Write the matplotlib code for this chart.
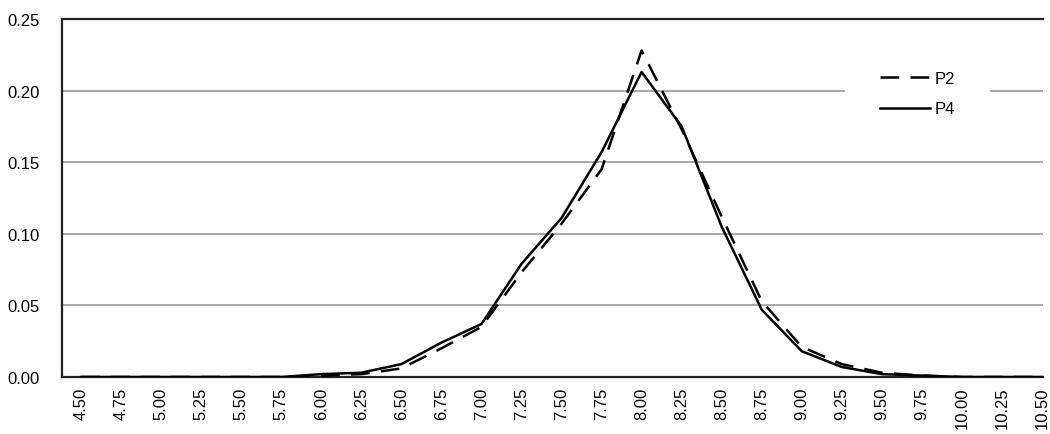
import matplotlib
matplotlib.use("Agg")
import matplotlib.pyplot as plt
import numpy as np

plt.rcParams['font.family'] = ['Liberation Sans', 'DejaVu Sans']

x_vals = [4.50, 4.75, 5.00, 5.25, 5.50, 5.75, 6.00, 6.25, 6.50, 6.75, 7.00, 7.25,
          7.50, 7.75, 8.00, 8.25, 8.50, 8.75, 9.00, 9.25, 9.50, 9.75, 10.00, 10.25, 10.50]
x_labels = ["%.2f" % v for v in x_vals]

p2 = [0.0, 0.0, 0.0, 0.0, 0.0, 0.0, 0.001, 0.002, 0.006, 0.020, 0.035, 0.073,
      0.107, 0.145, 0.228, 0.173, 0.112, 0.053, 0.021, 0.009, 0.003, 0.001, 0.0, 0.0, 0.0]
p4 = [0.0, 0.0, 0.0, 0.0, 0.0, 0.0, 0.002, 0.003, 0.009, 0.024, 0.037, 0.079,
      0.111, 0.157, 0.213, 0.175, 0.105, 0.047, 0.018, 0.007, 0.002, 0.001, 0.0, 0.0, 0.0]

fig = plt.figure(figsize=(10.5, 4.35), dpi=100)
ax = fig.add_axes([62/1050, 1-378/435, (1043-62)/1050, (378-20)/435])

ax.plot(x_vals, p2, color='black', lw=1.8, dashes=(7.5, 4.5), label='P2', zorder=3)
ax.plot(x_vals, p4, color='black', lw=1.8, label='P4', zorder=3)

step = 0.25
ax.set_xlim(4.50 - 19/40*step, 10.50 + 1/40*step)
ax.set_ylim(0, 0.25)
ax.set_xticks(x_vals)
ax.set_xticklabels(x_labels, rotation=90, fontsize=12)
ax.set_yticks([0, 0.05, 0.10, 0.15, 0.20, 0.25])
ax.set_yticklabels(["0.00", "0.05", "0.10", "0.15", "0.20", "0.25"], fontsize=12)
ax.tick_params(axis='both', length=0, pad=7)
ax.tick_params(axis='y', pad=16)
ax.yaxis.grid(True, color='#999999', lw=1.2)
ax.set_axisbelow(True)
for s in ['left', 'top', 'bottom']:
    ax.spines[s].set_color('#222222')
    ax.spines[s].set_linewidth(1.6)
ax.spines['right'].set_visible(False)

leg = ax.legend(loc='upper right', bbox_to_anchor=((990-62)/981, 0.9525), frameon=True,
                fontsize=12, handlelength=3.0, borderpad=2.1, labelspacing=0.92,
                handletextpad=0.3, borderaxespad=0)
leg.get_frame().set_edgecolor('none')
leg.get_frame().set_facecolor('white')
leg.get_frame().set_alpha(1)
leg.get_frame().set_boxstyle('square', pad=0)

fig.savefig('out.png', dpi=100)
